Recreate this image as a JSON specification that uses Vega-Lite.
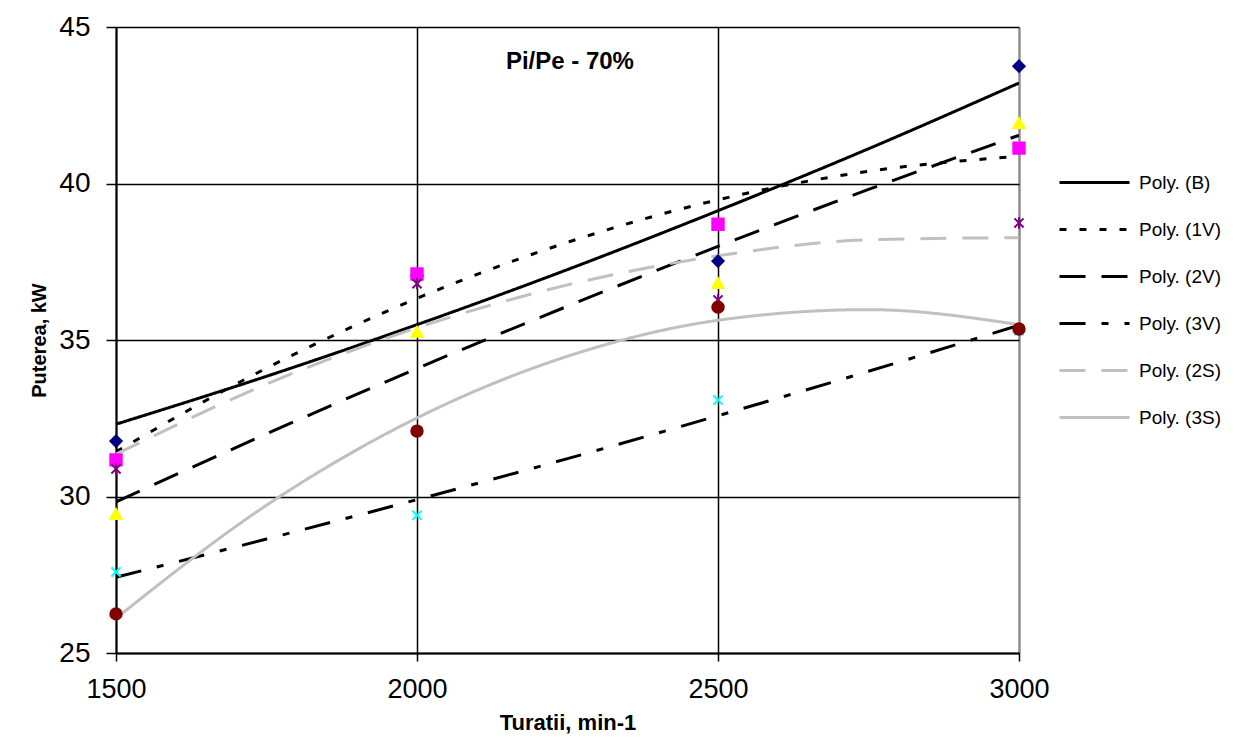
{
  "$schema": "https://vega.github.io/schema/vega-lite/v6.json",
  "width": 903,
  "height": 626,
  "autosize": {"type": "none"},
  "padding": {"left": 116, "top": 27, "right": 224, "bottom": 87},
  "background": "white",
  "config": {
    "view": {"stroke": null},
    "font": "Liberation Sans"
  },
  "datasets": {
    "lines": [
      {"turatii": 1500, "series": "Poly. (B)", "puterea": 32.31},
      {"turatii": 1750, "series": "Poly. (B)", "puterea": 33.84},
      {"turatii": 2000, "series": "Poly. (B)", "puterea": 35.49},
      {"turatii": 2250, "series": "Poly. (B)", "puterea": 37.25},
      {"turatii": 2500, "series": "Poly. (B)", "puterea": 39.13},
      {"turatii": 2750, "series": "Poly. (B)", "puterea": 41.11},
      {"turatii": 3000, "series": "Poly. (B)", "puterea": 43.21},
      {"turatii": 1500, "series": "Poly. (1V)", "puterea": 31.43},
      {"turatii": 1750, "series": "Poly. (1V)", "puterea": 34.10},
      {"turatii": 2000, "series": "Poly. (1V)", "puterea": 36.33},
      {"turatii": 2250, "series": "Poly. (1V)", "puterea": 38.12},
      {"turatii": 2500, "series": "Poly. (1V)", "puterea": 39.48},
      {"turatii": 2750, "series": "Poly. (1V)", "puterea": 40.39},
      {"turatii": 3000, "series": "Poly. (1V)", "puterea": 40.87},
      {"turatii": 1500, "series": "Poly. (2V)", "puterea": 29.83},
      {"turatii": 1750, "series": "Poly. (2V)", "puterea": 32.00},
      {"turatii": 2000, "series": "Poly. (2V)", "puterea": 34.09},
      {"turatii": 2250, "series": "Poly. (2V)", "puterea": 36.08},
      {"turatii": 2500, "series": "Poly. (2V)", "puterea": 37.99},
      {"turatii": 2750, "series": "Poly. (2V)", "puterea": 39.81},
      {"turatii": 3000, "series": "Poly. (2V)", "puterea": 41.54},
      {"turatii": 1500, "series": "Poly. (3V)", "puterea": 27.42},
      {"turatii": 1750, "series": "Poly. (3V)", "puterea": 28.64},
      {"turatii": 2000, "series": "Poly. (3V)", "puterea": 29.90},
      {"turatii": 2250, "series": "Poly. (3V)", "puterea": 31.21},
      {"turatii": 2500, "series": "Poly. (3V)", "puterea": 32.58},
      {"turatii": 2750, "series": "Poly. (3V)", "puterea": 34.00},
      {"turatii": 3000, "series": "Poly. (3V)", "puterea": 35.47},
      {"turatii": 1500, "series": "Poly. (2S)", "puterea": 31.35},
      {"turatii": 1750, "series": "Poly. (2S)", "puterea": 33.59},
      {"turatii": 2000, "series": "Poly. (2S)", "puterea": 35.39},
      {"turatii": 2250, "series": "Poly. (2S)", "puterea": 36.76},
      {"turatii": 2500, "series": "Poly. (2S)", "puterea": 37.69},
      {"turatii": 2750, "series": "Poly. (2S)", "puterea": 38.20},
      {"turatii": 3000, "series": "Poly. (2S)", "puterea": 38.27},
      {"turatii": 1500, "series": "Poly. (3S)", "puterea": 26.11},
      {"turatii": 1750, "series": "Poly. (3S)", "puterea": 29.72},
      {"turatii": 2000, "series": "Poly. (3S)", "puterea": 32.51},
      {"turatii": 2250, "series": "Poly. (3S)", "puterea": 34.48},
      {"turatii": 2500, "series": "Poly. (3S)", "puterea": 35.63},
      {"turatii": 2750, "series": "Poly. (3S)", "puterea": 35.97},
      {"turatii": 3000, "series": "Poly. (3S)", "puterea": 35.49}
    ],
    "pts": [
      {"turatii": 1500, "series": "B", "puterea": 31.77},
      {"turatii": 2000, "series": "B", "puterea": 37.05},
      {"turatii": 2500, "series": "B", "puterea": 37.52},
      {"turatii": 3000, "series": "B", "puterea": 43.75},
      {"turatii": 1500, "series": "1V", "puterea": 31.17},
      {"turatii": 2000, "series": "1V", "puterea": 37.11},
      {"turatii": 2500, "series": "1V", "puterea": 38.70},
      {"turatii": 3000, "series": "1V", "puterea": 41.13},
      {"turatii": 1500, "series": "2V", "puterea": 29.44},
      {"turatii": 2000, "series": "2V", "puterea": 35.26},
      {"turatii": 2500, "series": "2V", "puterea": 36.82},
      {"turatii": 3000, "series": "2V", "puterea": 41.93},
      {"turatii": 1500, "series": "3V", "puterea": 27.59},
      {"turatii": 2000, "series": "3V", "puterea": 29.40},
      {"turatii": 2500, "series": "3V", "puterea": 33.08},
      {"turatii": 3000, "series": "3V", "puterea": 35.30},
      {"turatii": 1500, "series": "2S", "puterea": 30.88},
      {"turatii": 2000, "series": "2S", "puterea": 36.80},
      {"turatii": 2500, "series": "2S", "puterea": 36.28},
      {"turatii": 3000, "series": "2S", "puterea": 38.74},
      {"turatii": 1500, "series": "3S", "puterea": 26.25},
      {"turatii": 2000, "series": "3S", "puterea": 32.09},
      {"turatii": 2500, "series": "3S", "puterea": 36.05},
      {"turatii": 3000, "series": "3S", "puterea": 35.35}
    ],
    "note": [
      {"turatii": 2254, "puterea": 43.88, "label": "Pi/Pe - 70%"}
    ]
  },
  "layer": [
    {
      "data": {"name": "lines"},
      "mark": {"type": "line", "strokeWidth": 3, "interpolate": "monotone", "clip": true},
      "encoding": {
        "x": {
          "field": "turatii", "type": "quantitative",
          "scale": {"domain": [1500, 3000], "nice": false, "zero": false},
          "axis": {
            "values": [1500, 2000, 2500, 3000],
            "format": "d",
            "title": "Turatii, min-1",
            "grid": true,
            "gridColor": {"condition": {"test": "datum.value === 3000", "value": "#8c8c8c"}, "value": "#000000"},
            "gridWidth": {"condition": {"test": "datum.value === 3000", "value": 2.5}, "value": 1.5},
            "gridOpacity": 1,
            "domainColor": "#000000", "domainWidth": 2,
            "tickColor": "#000000", "tickSize": 8, "tickWidth": 1.5,
            "labelFontSize": 27, "labelColor": "#000000", "labelPadding": 15, "labelFlush": false,
            "titleFontSize": 22, "titleFontWeight": "bold", "titleColor": "#000000", "titlePadding": 10
          }
        },
        "y": {
          "field": "puterea", "type": "quantitative",
          "scale": {"domain": [25, 45], "nice": false, "zero": false},
          "axis": {
            "values": [25, 30, 35, 40, 45],
            "title": "Puterea, kW",
            "grid": true, "gridColor": "#000000", "gridWidth": 1.5, "gridOpacity": 1,
            "domainColor": "#000000", "domainWidth": 2,
            "tickColor": "#000000", "tickSize": 10, "tickWidth": 1.5,
            "labelFontSize": 28, "labelColor": "#000000", "labelPadding": 16,
            "titleFontSize": 20, "titleFontWeight": "bold", "titleColor": "#000000", "titlePadding": 9
          }
        },
        "color": {
          "field": "series", "type": "nominal",
          "scale": {
            "domain": ["Poly. (B)", "Poly. (1V)", "Poly. (2V)", "Poly. (3V)", "Poly. (2S)", "Poly. (3S)"],
            "range": ["#000000", "#000000", "#000000", "#000000", "#c0c0c0", "#c0c0c0"]
          },
          "legend": {
            "title": null, "orient": "none", "legendX": 942, "legendY": 119, "padding": 0,
            "symbolType": "stroke", "symbolSize": 4900, "symbolStrokeWidth": 3,
            "labelFontSize": 19, "labelColor": "#000000", "labelOffset": 8, "rowPadding": 0
          }
        },
        "strokeDash": {
          "field": "series", "type": "nominal",
          "scale": {
            "domain": ["Poly. (B)", "Poly. (1V)", "Poly. (2V)", "Poly. (3V)", "Poly. (2S)", "Poly. (3S)"],
            "range": [[1, 0], [7, 13], [26, 16], [26, 16, 7, 16], [26, 16], [1, 0]]
          },
          "legend": {
            "title": null, "orient": "none", "legendX": 942, "legendY": 119, "padding": 0,
            "symbolType": "stroke", "symbolSize": 4900, "symbolStrokeWidth": 3,
            "labelFontSize": 19, "labelColor": "#000000", "labelOffset": 8, "rowPadding": 0
          }
        }
      }
    },
    {
      "data": {"name": "pts"},
      "mark": {"type": "point", "filled": true, "strokeWidth": 2, "opacity": 1, "size": 130},
      "encoding": {
        "x": {"field": "turatii", "type": "quantitative"},
        "y": {"field": "puterea", "type": "quantitative"},
        "fill": {
          "field": "series", "type": "nominal", "legend": null,
          "scale": {"domain": ["B", "1V", "2V", "3V", "2S", "3S"], "range": ["#000080", "#ff00ff", "#ffff00", "#00ffff", "#800080", "#800000"]}
        },
        "stroke": {
          "field": "series", "type": "nominal", "legend": null,
          "scale": {"domain": ["B", "1V", "2V", "3V", "2S", "3S"], "range": ["#000080", "#ff00ff", "#ffff00", "#00ffff", "#800080", "#800000"]}
        },
        "shape": {
          "field": "series", "type": "nominal", "legend": null,
          "scale": {"domain": ["B", "1V", "2V", "3V", "2S", "3S"], "range": ["diamond", "square", "triangle-up", "M-0.8,-0.8L0.8,0.8M0.8,-0.8L-0.8,0.8", "M-0.8,-0.8L0.8,0.8M0.8,-0.8L-0.8,0.8M0,-1L0,1", "circle"]}
        }
      }
    },
    {
      "data": {"name": "note"},
      "mark": {"type": "text", "fontSize": 24, "fontWeight": "bold", "color": "#000000", "baseline": "middle", "align": "center"},
      "encoding": {
        "x": {"field": "turatii", "type": "quantitative"},
        "y": {"field": "puterea", "type": "quantitative"},
        "text": {"field": "label"}
      }
    }
  ]
}
